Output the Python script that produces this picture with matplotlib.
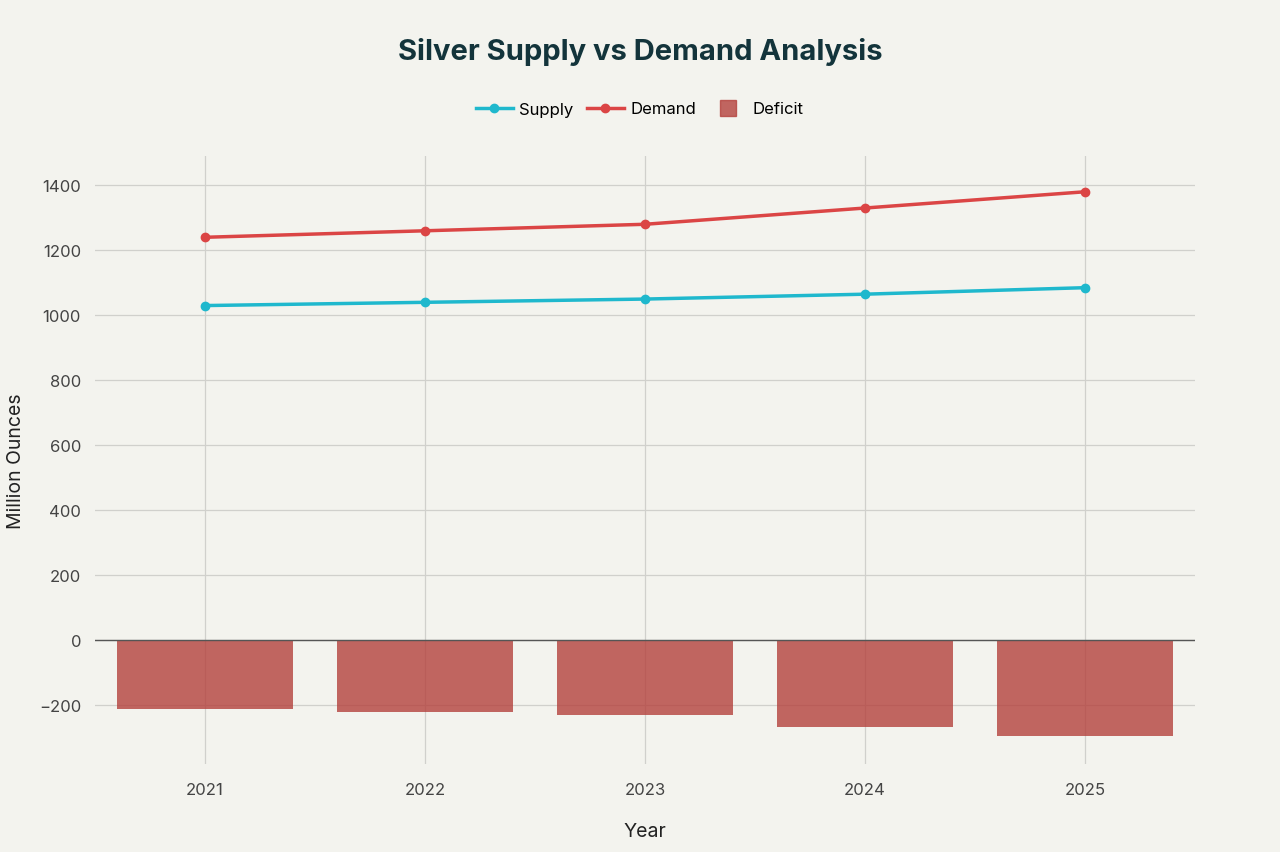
import numpy as np
from matplotlib import pyplot as plt
from matplotlib.lines import Line2D

years = [2021, 2022, 2023, 2024, 2025]
supply = [1030, 1040, 1050, 1065, 1085]
demand = [1240, 1260, 1280, 1330, 1380]
deficit = [-210, -220, -230, -265, -295]

bg = "#F3F3EE"
plt.rcParams['font.family'] = ['Inter', 'DejaVu Sans']

fig = plt.figure(figsize=(12.8, 8.53), dpi=100, facecolor=bg)
ax = fig.add_axes([95/1280, 1 - 765/853, 1100/1280, 608/853], facecolor=bg)

ax.bar(years, deficit, width=0.8, color="#B4413C", alpha=0.8, zorder=2)
ax.plot(years, supply, color="#1FB8CD", lw=2.5, marker='o', ms=6, zorder=3)
ax.plot(years, demand, color="#DB4545", lw=2.5, marker='o', ms=6, zorder=3)
ax.axhline(0, color="#555555", lw=1, zorder=2.5)

ax.set_xlim(2020.5, 2025.5)
ax.set_ylim(-380, 1490)
ax.set_xticks(years)
yt = np.arange(-200, 1401, 200)
ax.set_yticks(yt)
ax.set_yticklabels([("\u2212" + str(-v)) if v < 0 else str(v) for v in yt])
ax.grid(True, color="#D0D0CC", lw=0.9, zorder=0)
for s in ax.spines.values():
    s.set_visible(False)
ax.tick_params(length=0, labelsize=12, colors="#444444", pad=10)
ax.tick_params(axis='x', pad=13)

ax.set_xlabel("Year", fontsize=14, color="#222222", labelpad=18)
ax.set_ylabel("Million Ounces", fontsize=14, color="#222222", labelpad=10)
fig.text(0.5, 1 - 52/853, "Silver Supply vs Demand Analysis", ha='center', va='center',
         fontsize=21, fontweight='bold', color="#13343B")

handles = [Line2D([], [], color="#1FB8CD", lw=2.5, marker='o', ms=6),
           Line2D([], [], color="#DB4545", lw=2.5, marker='o', ms=6),
           Line2D([], [], color="#B4413C", alpha=0.8, ls='none', marker='s', ms=12)]
fig.legend(handles, ["Supply", "Demand", "Deficit"], loc='center', ncol=3,
           bbox_to_anchor=(0.5, 1 - 110/853), frameon=False, fontsize=12,
           handlelength=2.2, columnspacing=0.8, handletextpad=0.4)

fig.savefig("out.png", dpi=100, facecolor=bg)
